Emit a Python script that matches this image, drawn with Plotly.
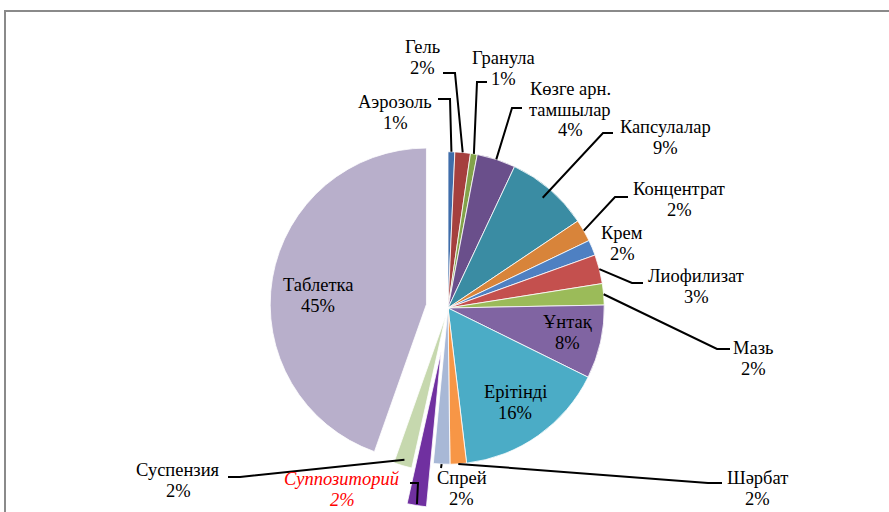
import math
import plotly.graph_objects as go

# ---------------- data ----------------
labels = ["Аэрозоль", "Гель", "Гранула", "Көзге арн.<br>тамшылар", "Капсулалар",
          "Концентрат", "Крем", "Лиофилизат", "Мазь", "Ұнтақ", "Ерітінді",
          "Шәрбат", "Спрей", "Суппозиторий", "Суспензия", "Таблетка"]
values = [0.7, 1.6, 0.7, 4.0, 8.6, 2.3, 1.6, 3.0, 2.2, 7.6, 15.8,
          1.7, 1.7, 2.0, 1.9, 44.6]
pulls = [0, 0, 0, 0, 0, 0, 0, 0, 0, 0, 0, 0, 0, 0.28, 0.05, 0.14]

# ---------------- style ----------------
colors = ["#3F6DAA", "#A5403E", "#83A34A", "#6A4F8B", "#3A8CA3", "#D8843A",
          "#4E80C2", "#C4504E", "#9BBB59", "#8064A2", "#4BACC6", "#F79646",
          "#A8B8D6", "#7030A0", "#C6D8AE", "#B8AFCB"]

W, H = 889, 512
CX, CY = 448, 308          # pie centre in pixels
BOX = 400                  # pie domain box in pixels
maxpull = max(pulls)
R = BOX / (2 + 2 * maxpull)

FONT = "Liberation Serif, Times New Roman, serif"
FS = 18.5
LINE_GAP = 20.5

# label layout: pixel centre of the first text line
label_pos = {
    "Аэрозоль": (395, 102), "Гель": (422, 47), "Гранула": (503, 58),
    "Көзге арн.<br>тамшылар": (570, 89), "Капсулалар": (665, 127),
    "Концентрат": (679, 189), "Крем": (622, 233), "Лиофилизат": (696, 276),
    "Мазь": (753, 348), "Ұнтақ": (567, 322), "Ерітінді": (515, 392),
    "Шәрбат": (757, 478), "Спрей": (462, 478), "Суппозиторий": (342, 479),
    "Суспензия": (178, 470), "Таблетка": (318, 285),
}
leaders = {
    "Аэрозоль": ([(438, 99), (450, 99)], 1.0),
    "Гель": ([(443, 73), (455, 73)], 1.0),
    "Гранула": ([(487, 82), (477, 82)], 1.0),
    "Көзге арн.<br>тамшылар": ([(522, 108), (512, 108)], 1.0),
    "Капсулалар": ([(613, 133), (603, 133)], 0.93),
    "Концентрат": ([(628, 197), (615, 197)], 1.0),
    "Лиофилизат": ([(643, 283), (632, 283)], 1.0),
    "Мазь": ([(730, 349), (717, 349)], 1.0),
    "Шәрбат": ([(722, 483), (708, 483)], 1.0),
    "Спрей": ([(441, 468)], 1.0),
    "Суппозиторий": ([(410, 483), (418, 483)], 0.99),
    "Суспензия": ([(228, 477), (240, 477)], 0.96),
}
special_font = {"Суппозиторий": dict(color="#FF0000", family=FONT, size=FS, style="italic")}


def px_to_paper(x, y):
    return x / W, 1 - y / H


fig = go.Figure()
fig.add_trace(go.Pie(
    labels=labels, values=values, pull=pulls, sort=False,
    direction="clockwise", rotation=0,
    marker=dict(colors=colors, line=dict(color="white", width=0.8)),
    textinfo="none", hoverinfo="label+percent", showlegend=False,
    domain=dict(x=[(CX - BOX / 2) / W, (CX + BOX / 2) / W],
                y=[(H - CY - BOX / 2) / H, (H - CY + BOX / 2) / H]),
))

total = sum(values)
shapes = []
annotations = []
cum = 0.0
for lab, v, p in zip(labels, values, pulls):
    a0 = cum / total * 360
    cum += v
    a1 = cum / total * 360
    mid = math.radians((a0 + a1) / 2)
    ox, oy = p * R * math.sin(mid), -p * R * math.cos(mid)
    pct = f"{round(v / total * 100)}%"
    tx, ty = label_pos[lab]
    fnt = special_font.get(lab, dict(color="#000000", family=FONT, size=FS))
    lines = lab.split("<br>") + [pct]
    for i, line in enumerate(lines):
        xp, yp = px_to_paper(tx, ty + i * LINE_GAP)
        annotations.append(dict(text=line, x=xp, y=yp, xref="paper", yref="paper",
                                xanchor="center", yanchor="middle", showarrow=False,
                                font=fnt, align="center"))
    if lab in leaders:
        pts, frac = leaders[lab]
        ax = CX + ox + frac * R * math.sin(mid)
        ay = CY + oy - frac * R * math.cos(mid)
        allpts = pts + [(ax, ay)]
        path = ""
        for i, (x, y) in enumerate(allpts):
            xx, yy = px_to_paper(x, y)
            path += ("M" if i == 0 else " L") + f" {xx:.5f} {yy:.5f}"
        shapes.append(dict(type="path", path=path, xref="paper", yref="paper",
                           line=dict(color="#000000", width=2)))

# chart border (gray frame)
x0, y0 = px_to_paper(5, 520)
x1, y1 = px_to_paper(5, 11)
x2, _ = px_to_paper(895, 11)
shapes.append(dict(type="path", path=f"M {x0} {y0} L {x1} {y1} L {x2} {y1}",
                   xref="paper", yref="paper", line=dict(color="#8A8A8A", width=2)))

fig.update_layout(
    width=W, height=H, margin=dict(l=0, r=0, t=0, b=0),
    paper_bgcolor="white", plot_bgcolor="white",
    shapes=shapes, annotations=annotations,
)
fig.write_html("out.html", config={"displayModeBar": False},
               post_script="document.body.style.margin='0';document.body.style.overflow='hidden';")
